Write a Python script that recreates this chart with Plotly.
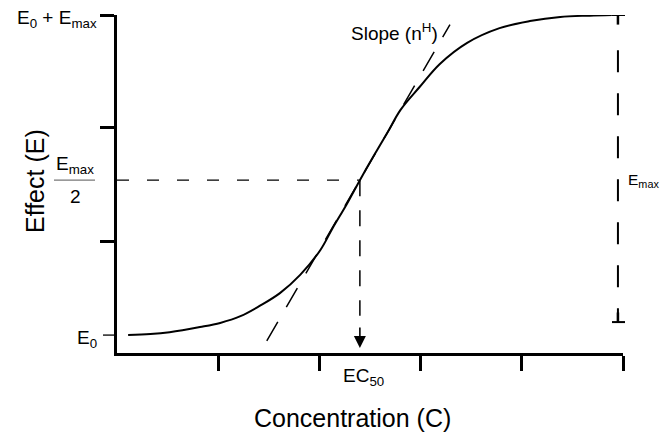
import plotly.graph_objects as go

# --- data (x: log concentration units, y: effect in % of Emax) ---
conc = [0.11, 0.33, 0.52, 0.82, 1.02, 1.22, 1.41, 1.61, 1.81, 2.01, 2.13, 2.27,
        2.40, 2.53, 2.67, 2.80, 2.99, 3.19, 3.46, 3.78, 4.08, 4.38, 4.67, 4.89]
effect = [0.0, 0.3, 0.9, 2.5, 3.8, 5.9, 9.1, 13.1, 18.8, 26.6, 33.4, 40.9,
          48.4, 55.6, 63.1, 70.3, 77.5, 84.7, 91.3, 95.9, 98.1, 99.4, 99.8, 100.0]

e0 = 0.0
e_top = 100.0
ec50 = 2.40
e_half = 48.4
hill_slope = 54.6            # effect units per x unit at EC50
tangent_x = [1.48, 3.29]
emax_bar_x = 4.95
emax_bar_bottom = 4.06

x_ticks = [1, 2, 3, 4, 5]
y_ticks = [29.1, 64.7, 100.0]

FONT = "Arial, Liberation Sans, sans-serif"

# plot area in screen pixels: x 117..623, y 15..353 (page body adds an 8px margin,
# so the figure itself is 16px smaller than the window)
def px(x):
    return (x - 117) / 506


def py(y):
    return (353 - y) / 338


fig = go.Figure()

# Hill curve
fig.add_trace(go.Scatter(x=conc, y=effect, mode="lines", line=dict(color="black", width=2),
                         line_shape="spline", hoverinfo="skip", cliponaxis=False))

# tangent at EC50
tan_y = [e_half + hill_slope * (x - ec50) for x in tangent_x]
fig.add_trace(go.Scatter(x=tangent_x, y=tan_y, mode="lines", cliponaxis=False,
                         line=dict(color="black", width=1.5, dash="22px,17px"), hoverinfo="skip"))

bar_l = px(612)
bar_r = px(625)
shapes = [
    # half-effect level
    dict(type="line", x0=0, x1=ec50, y0=e_half, y1=e_half,
         line=dict(color="black", width=1.3, dash="12px,18px")),
    # EC50 drop line
    dict(type="line", x0=ec50, x1=ec50, y0=e_half, y1=6,
         line=dict(color="black", width=1.5, dash="16px,14px")),
    # Emax bracket
    dict(type="line", x0=emax_bar_x, x1=emax_bar_x, y0=89.0, y1=emax_bar_bottom,
         line=dict(color="black", width=2, dash="22px,21px")),
    dict(type="line", xref="paper", x0=bar_l, x1=bar_r, y0=e_top, y1=e_top,
         line=dict(color="black", width=2)),
    dict(type="line", x0=emax_bar_x, x1=emax_bar_x, y0=e_top, y1=e_top - 3,
         line=dict(color="black", width=2.5)),
    dict(type="line", xref="paper", x0=bar_l, x1=bar_r, y0=emax_bar_bottom,
         y1=emax_bar_bottom, line=dict(color="black", width=2)),
    dict(type="line", x0=emax_bar_x, x1=emax_bar_x, y0=emax_bar_bottom, y1=emax_bar_bottom + 3,
         line=dict(color="black", width=2.5)),
    # thin E0 tick
    dict(type="line", xref="paper", x0=px(103), x1=px(117), y0=e0, y1=e0,
         line=dict(color="black", width=1.3)),
    # fraction bar of Emax/2
    dict(type="line", xref="paper", x0=px(54), x1=px(95), y0=e_half, y1=e_half,
         line=dict(color="#777777", width=1.2)),
]


def label(x, y, text, xanchor="center", size=19, **kw):
    return dict(xref="paper", yref="paper", x=px(x), y=py(y), text=text, showarrow=False,
                xanchor=xanchor, yanchor="middle", font=dict(size=size), **kw)


annotations = [
    label(99, 19, "E<sub>0</sub> + E<sub>max</sub>", xanchor="right"),
    label(75, 165, "E<sub>max</sub>"),
    label(75, 196, "2"),
    label(99, 339, "E<sub>0</sub>", xanchor="right"),
    label(363, 377, "EC<sub>50</sub>"),
    label(394, 32, "Slope (n<sup>H</sup>)"),
    label(626, 181, "E<sub>max</sub>", xanchor="left", size=15.5),
    label(352, 418, "Concentration (C)", size=25),
    label(35, 181, "Effect (E)", size=25, textangle=-90),
    # EC50 arrow
    dict(x=ec50, y=-4.06, ax=0, ay=-22, text="", showarrow=True, arrowhead=2,
         arrowsize=1.5, arrowwidth=1.6, arrowcolor="black"),
]

fig.update_layout(
    width=654, height=425,
    margin=dict(l=109, r=39, t=7, b=80),
    paper_bgcolor="white", plot_bgcolor="white",
    showlegend=False,
    font=dict(family=FONT, color="black"),
    shapes=shapes,
    annotations=annotations,
)
fig.update_xaxes(range=[0, 5], showgrid=False, zeroline=False, showline=True,
                 linecolor="black", linewidth=3, ticks="outside", tickvals=x_ticks,
                 ticklen=15, tickwidth=3, tickcolor="black", showticklabels=False,
                 automargin=False)
fig.update_yaxes(range=[-5.6, 100], showgrid=False, zeroline=False, showline=True,
                 linecolor="black", linewidth=3, ticks="outside", tickvals=y_ticks,
                 ticklen=14, tickwidth=3, tickcolor="black", showticklabels=False,
                 automargin=False)

fig.write_html("out.html")
